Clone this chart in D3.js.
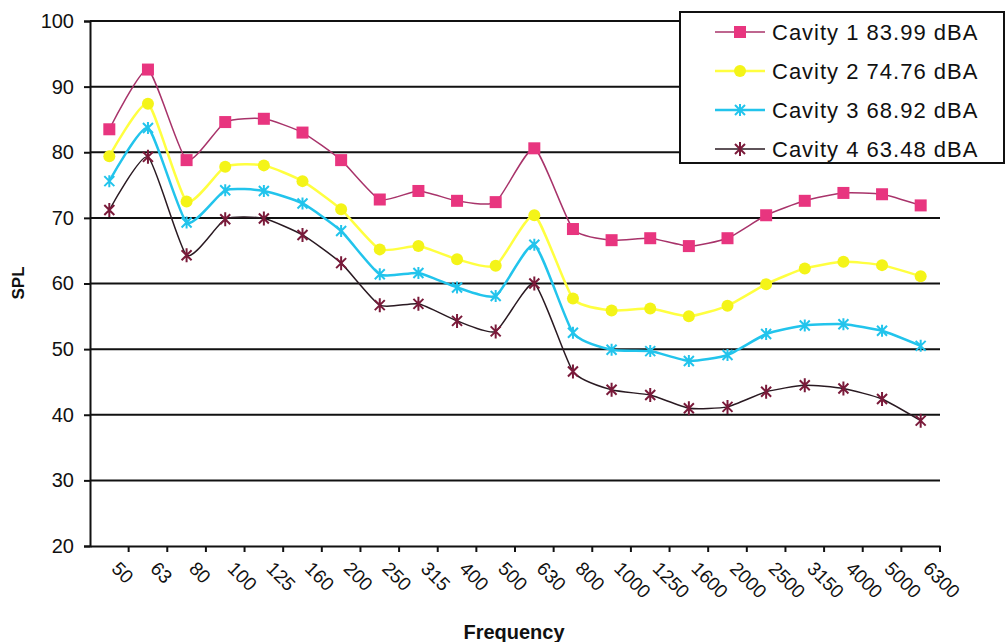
<!DOCTYPE html>
<html><head><meta charset="utf-8">
<script src="https://cdn.jsdelivr.net/npm/d3@7"></script>
<style>body{margin:0;background:#fff}svg{display:block}text{font-family:"Liberation Sans",Arial,sans-serif}</style>
</head><body><svg id="c" width="1007" height="642"></svg>
<script>
const categories = ["50","63","80","100","125","160","200","250","315","400","500","630","800","1000","1250","1600","2000","2500","3150","4000","5000","6300"];
const seriesNames = ["Cavity 1 83.99 dBA","Cavity 2 74.76 dBA","Cavity 3 68.92 dBA","Cavity 4 63.48 dBA"];
const cavity1 = [83.5,92.6,78.8,84.6,85.1,83.0,78.8,72.8,74.1,72.6,72.4,80.6,68.3,66.6,66.9,65.7,66.9,70.4,72.6,73.8,73.6,71.9];
const cavity2 = [79.4,87.4,72.5,77.8,78.0,75.6,71.3,65.2,65.7,63.7,62.7,70.4,57.7,55.9,56.2,55.0,56.6,59.9,62.3,63.3,62.8,61.1];
const cavity3 = [75.6,83.7,69.3,74.2,74.1,72.2,68.0,61.4,61.6,59.4,58.1,65.9,52.5,49.9,49.7,48.2,49.1,52.3,53.6,53.8,52.8,50.5];
const cavity4 = [71.2,79.3,64.3,69.8,69.9,67.4,63.1,56.7,56.9,54.3,52.7,60.0,46.6,43.8,43.0,41.0,41.2,43.5,44.5,44.0,42.4,39.1];
const yTicks = [20,30,40,50,60,70,80,90,100];
const allSeries = [cavity1,cavity2,cavity3,cavity4];

const styles = [
  {line:"#a8336a", fill:"#e8357f", w:1.5, marker:"square"},
  {line:"#ffff40", fill:"#f4f418", w:2.5, marker:"circle"},
  {line:"#22c4ec", fill:"#22c4ec", w:2.5, marker:"star"},
  {line:"#2a1a22", fill:"#7a1a3a", w:1.5, marker:"asterisk"}
];

const svg = d3.select("#c");
const L = 90, R = 940, T = 21, B = 546;
const x = d3.scaleBand().domain(categories).range([L,R]);
const y = d3.scaleLinear().domain([20,100]).range([B,T]);

// gridlines
svg.append("g").selectAll("line").data(yTicks.filter(d=>d>20)).join("line")
  .attr("x1",L).attr("x2",R).attr("y1",d=>y(d)).attr("y2",d=>y(d))
  .attr("stroke","#111").attr("stroke-width",2);

// y axis
const ya = svg.append("g").attr("transform",`translate(${L},0)`)
  .call(d3.axisLeft(y).tickValues(yTicks).tickSize(6).tickPadding(10));
ya.select(".domain").attr("stroke","#111").attr("stroke-width",2);
ya.selectAll(".tick line").attr("stroke","#111").attr("stroke-width",2);
ya.selectAll(".tick text").attr("font-size",20).attr("fill","#111").attr("font-family","Liberation Sans, Arial, sans-serif");

// x axis
const xa = svg.append("g").attr("transform",`translate(0,${B})`)
  .call(d3.axisBottom(x).tickSize(0).tickFormat(""));
xa.select(".domain").attr("stroke","#111").attr("stroke-width",2);
const bounds = categories.map((c,i)=>L + i*x.step()).concat([R]);
xa.selectAll(".tb").data(bounds.slice(1)).join("line").attr("class","tb")
  .attr("x1",d=>d).attr("x2",d=>d).attr("y1",0).attr("y2",6)
  .attr("stroke","#111").attr("stroke-width",2);
svg.append("g").selectAll("text").data(categories).join("text")
  .attr("transform",d=>`translate(${x(d)+x.bandwidth()/2+6},${B+19}) rotate(45)`)
  .attr("font-size",19).attr("fill","#111").attr("text-anchor","start")
  .attr("dy","0.35em").text(d=>d);

// titles
svg.append("text").attr("transform","translate(24,283) rotate(-90)")
  .attr("text-anchor","middle").attr("font-size",17).attr("font-weight","bold").attr("fill","#111").text("SPL");
svg.append("text").attr("x",514).attr("y",639)
  .attr("text-anchor","middle").attr("font-size",20).attr("font-weight","bold").attr("fill","#111").text("Frequency");

// lines
const line = d3.line().x((d,i)=>x(categories[i])+x.bandwidth()/2).y(d=>y(d)).curve(d3.curveCardinal.tension(0.45));

function drawMarker(g, type, cx, cy, st){
  if(type==="square"){
    g.append("rect").attr("x",cx-6).attr("y",cy-6).attr("width",12).attr("height",12).attr("fill",st.fill);
  } else if(type==="circle"){
    g.append("circle").attr("cx",cx).attr("cy",cy).attr("r",6).attr("fill",st.fill);
  } else if(type==="star"){
    const p = `M${cx-5},${cy-5}L${cx+5},${cy+5}M${cx-5},${cy+5}L${cx+5},${cy-5}M${cx},${cy-6}L${cx},${cy+6}`;
    g.append("path").attr("d",p).attr("stroke",st.fill).attr("stroke-width",2);
  } else {
    const p = `M${cx-5},${cy-5}L${cx+5},${cy+5}M${cx-5},${cy+5}L${cx+5},${cy-5}M${cx},${cy-7}L${cx},${cy+7}`;
    g.append("path").attr("d",p).attr("stroke",st.fill).attr("stroke-width",2);
  }
}

allSeries.forEach((s,k)=>{
  const st = styles[k];
  const g = svg.append("g");
  g.append("path").datum(s).attr("d",line).attr("fill","none").attr("stroke",st.line).attr("stroke-width",st.w);
  s.forEach((v,i)=>drawMarker(g, st.marker, x(categories[i])+x.bandwidth()/2, y(v), st));
});

// legend
const lg = svg.append("g");
lg.append("rect").attr("x",680).attr("y",12).attr("width",324).attr("height",151)
  .attr("fill","#fff").attr("stroke","#111").attr("stroke-width",2);
seriesNames.forEach((n,k)=>{
  const st = styles[k];
  const cy = 32 + k*39;
  lg.append("line").attr("x1",715).attr("x2",765).attr("y1",cy).attr("y2",cy).attr("stroke",st.line).attr("stroke-width",st.w);
  drawMarker(lg, st.marker, 740, cy, st);
  lg.append("text").attr("x",772).attr("y",cy).attr("dy","0.35em").attr("font-size",22)
    .attr("letter-spacing",1).attr("fill","#111").text(n);
});
</script></body></html>
